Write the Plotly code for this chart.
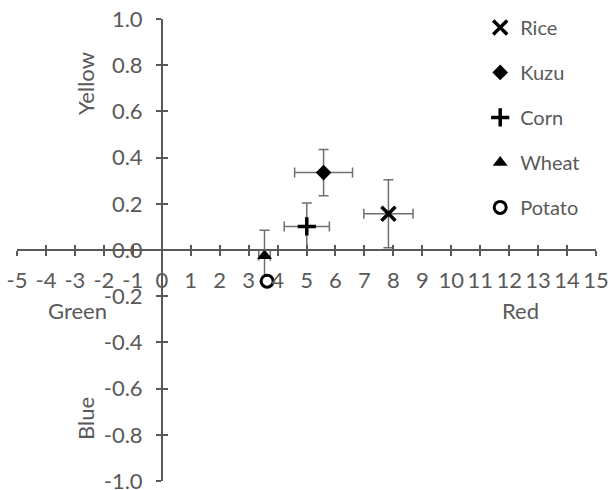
import plotly.graph_objects as go

# ---- data ----
names = ["Rice", "Kuzu", "Corn", "Wheat", "Potato"]
red_green = [7.83, 5.59, 5.01, 3.55, 3.64]
yellow_blue = [0.157, 0.335, 0.102, -0.025, -0.135]
err_x = [0.85, 1.0, 0.78, 0.2, 0.12]
err_y = [0.147, 0.1, 0.102, 0.11, 0.02]

x_ticks = list(range(-5, 16))
x_ticktext = [str(v) for v in x_ticks]
y_ticks = [-1.0, -0.8, -0.6, -0.4, -0.2, 0.0, 0.2, 0.4, 0.6, 0.8, 1.0]
y_ticktext = ["-1.0", "-0.8", "-0.6", "-0.4", "-0.2", "0.0", "0.2", "0.4", "0.6", "0.8", "1.0"]

# ---- styles ----
FONT = "Lato"
GRAY = "#595959"
ERR = "#707070"
styles = {
    "Rice": dict(symbol="x-thin", size=14, color="black", line=dict(width=3.5, color="black")),
    "Kuzu": dict(symbol="diamond", size=12, color="black", line=dict(width=0, color="black")),
    "Corn": dict(symbol="cross-thin", size=13, color="black", line=dict(width=3.5, color="black")),
    "Wheat": dict(symbol="triangle-up", size=13, color="black", line=dict(width=0, color="black")),
    "Potato": dict(symbol="circle", size=12, color="white", line=dict(width=3, color="black")),
}

fig = go.Figure()
for i, n in enumerate(names):
    fig.add_trace(go.Scatter(
        x=[red_green[i]], y=[yellow_blue[i]], mode="markers", name=n,
        legendgroup=n,
        marker=styles[n],
        error_x=dict(type="data", array=[err_x[i]], color=ERR, thickness=1.5, width=5),
        error_y=dict(type="data", array=[err_y[i]], color=ERR, thickness=1.5, width=5),
    ))

# invisible trace for the overlay axes (inner half of crossing ticks)
fig.add_trace(go.Scatter(x=[None], y=[None], xaxis="x2", yaxis="y2", showlegend=False, hoverinfo="skip"))

TICKFONT = dict(family=FONT, size=22, color=GRAY)
fig.update_layout(
    width=608, height=490,
    margin=dict(l=17, r=12, t=19, b=9, autoexpand=False),
    paper_bgcolor="white", plot_bgcolor="white",
    font=dict(family=FONT, size=20, color=GRAY),
    xaxis=dict(range=[-5, 15], anchor="free", position=0.5, showline=True, linecolor=GRAY, linewidth=1.5,
               ticks="outside", ticklen=5, tickwidth=1.5, tickcolor=GRAY, ticklabelstandoff=6,
               tickmode="array", tickvals=x_ticks, ticktext=x_ticktext, automargin=False,
               ticklabeloverflow="allow", showgrid=False, zeroline=False, tickfont=TICKFONT),
    yaxis=dict(range=[-1, 1], anchor="free", position=0.25, showline=True, linecolor=GRAY, linewidth=1.5,
               ticks="outside", ticklen=5, tickwidth=1.5, tickcolor=GRAY, ticklabelstandoff=9,
               tickmode="array", tickvals=y_ticks, ticktext=y_ticktext, automargin=False,
               ticklabeloverflow="allow", showgrid=False, zeroline=False, tickfont=TICKFONT),
    xaxis2=dict(range=[-5, 15], overlaying="x", anchor="free", position=0.5, showline=False,
                ticks="inside", ticklen=5, tickwidth=1.5, tickcolor=GRAY, showticklabels=False,
                tickmode="array", tickvals=x_ticks, showgrid=False, zeroline=False, automargin=False),
    yaxis2=dict(range=[-1, 1], overlaying="y", anchor="free", position=0.25, showline=False,
                ticks="inside", ticklen=5, tickwidth=1.5, tickcolor=GRAY, showticklabels=False,
                tickmode="array", tickvals=y_ticks, showgrid=False, zeroline=False, automargin=False),
    legend=dict(x=0.80, y=1.024, xanchor="left", yanchor="top", bgcolor="rgba(0,0,0,0)",
                font=dict(family=FONT, size=20, color=GRAY), tracegroupgap=16, itemwidth=30),
    showlegend=True,
)

ann = [
    ("Yellow", 0.117, 0.861, -90),
    ("Blue", 0.117, 0.136, -90),
    ("Green", 0.104, 0.368, 0),
    ("Red", 0.869, 0.368, 0),
]
for t, ax_, ay_, rot in ann:
    fig.add_annotation(text=t, x=ax_, y=ay_, xref="paper", yref="paper", showarrow=False,
                       xanchor="center", yanchor="middle",
                       textangle=rot, font=dict(family=FONT, size=22, color=GRAY))

# remove the browser's default 8px body margin so the figure fills the window
fig.write_html("out.html", config={"displayModeBar": False},
               post_script="document.body.style.margin='0';")
